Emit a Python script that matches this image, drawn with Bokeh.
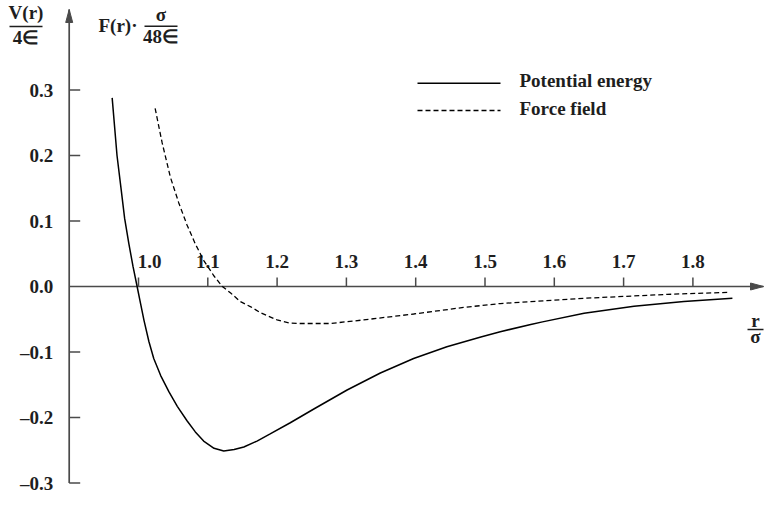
from bokeh.plotting import figure
from bokeh.embed import file_html
from bokeh.resources import INLINE
from bokeh.core.properties import value

# ---- data ----
pot_r = [0.962, 0.969, 0.975, 0.980, 0.986, 0.992, 0.998, 1.003, 1.008, 1.015, 1.022,
         1.032, 1.044, 1.056, 1.070, 1.082, 1.094, 1.109, 1.123, 1.138, 1.152, 1.171,
         1.190, 1.219, 1.253, 1.301, 1.349, 1.397, 1.445, 1.494, 1.522, 1.566, 1.583,
         1.643, 1.715, 1.787, 1.857]
pot_v = [0.288, 0.200, 0.148, 0.104, 0.066, 0.031, 0.000, -0.026, -0.052, -0.084, -0.110,
         -0.136, -0.161, -0.183, -0.205, -0.222, -0.236, -0.247, -0.251, -0.249, -0.245, -0.236,
         -0.225, -0.208, -0.187, -0.158, -0.132, -0.110, -0.092, -0.077, -0.069, -0.058, -0.054,
         -0.041, -0.030, -0.023, -0.018]

force_r = [1.024, 1.034, 1.046, 1.058, 1.070, 1.082, 1.094, 1.109, 1.121, 1.133, 1.147,
           1.162, 1.176, 1.200, 1.219, 1.234, 1.277, 1.325, 1.397, 1.469, 1.522, 1.566,
           1.643, 1.763, 1.850]
force_v = [0.272, 0.220, 0.167, 0.128, 0.094, 0.065, 0.040, 0.016, 0.000, -0.010, -0.023,
           -0.031, -0.040, -0.051, -0.056, -0.0565, -0.0565, -0.051, -0.042, -0.032, -0.026, -0.023,
           -0.018, -0.012, -0.009]

x_ticks = [1.0, 1.1, 1.2, 1.3, 1.4, 1.5, 1.6, 1.7, 1.8]
x_labels = ["1.0", "1.1", "1.2", "1.3", "1.4", "1.5", "1.6", "1.7", "1.8"]
y_ticks = [0.3, 0.2, 0.1, 0.0, -0.1, -0.2, -0.3]
y_labels = ["0.3", "0.2", "0.1", "0.0", "\u20130.1", "\u20130.2", "\u20130.3"]
series_names = ["Potential energy", "Force field"]

# ---- layout ----
W, H = 764, 496
SX, SY = 693.0, 655.0          # pixels per data unit
X0 = 1.0 - 138 / SX
Y1 = 286 / SY
AX_X = 0.9                     # where the vertical axis sits
AX_Y_BOTTOM = -0.3


def X(px):
    return X0 + px / SX


def Y(py):
    return Y1 - py / SY


FONT = value("Liberation Serif")
AXC = "#4a4a4a"
TXT = "#1e1e1e"

p = figure(width=W, height=H, x_range=(X0, X0 + W / SX), y_range=(Y1 - H / SY, Y1),
           x_axis_type=None, y_axis_type=None, toolbar_location=None,
           output_backend="svg", min_border=0, outline_line_color=None)
p.background_fill_color = "white"
p.border_fill_color = "white"

# axes
x_tip = X(763)
y_tip = Y(9)
p.line([AX_X, x_tip], [0, 0], line_color=AXC, line_width=1.7)
p.line([AX_X, AX_X], [AX_Y_BOTTOM, y_tip], line_color=AXC, line_width=1.7)
# arrow heads
p.patch([AX_X, AX_X - 3.5 / SX, AX_X + 3.5 / SX], [y_tip, y_tip - 13 / SY, y_tip - 13 / SY],
        fill_color=AXC, line_color=AXC, line_width=1)
p.patch([x_tip, x_tip - 13 / SX, x_tip - 13 / SX], [0, 3.5 / SY, -3.5 / SY],
        fill_color=AXC, line_color=AXC, line_width=1)

# ticks
p.segment(x0=x_ticks, y0=[0] * len(x_ticks), x1=x_ticks, y1=[9 / SY] * len(x_ticks),
          line_color=AXC, line_width=1.5)
yt = [t for t in y_ticks if t != 0]
p.segment(x0=[AX_X] * len(yt), y0=yt, x1=[AX_X + 11 / SX] * len(yt), y1=yt,
          line_color=AXC, line_width=1.5)

# tick labels
lbl = dict(text_font=FONT, text_font_style="bold", text_font_size="19px", text_color=TXT,
           text_baseline="alphabetic")
p.text(x=x_ticks[:1], y=[0], text=x_labels[:1], text_align="center",
       x_offset=11, y_offset=-25, **lbl)
p.text(x=x_ticks[1:], y=[0] * (len(x_ticks) - 1), text=x_labels[1:], text_align="center",
       y_offset=-25, **lbl)
p.text(x=[AX_X] * len(y_ticks), y=y_ticks, text=y_labels, text_align="right",
       x_offset=-16, y_offset=0, **lbl)

# curves
p.line(pot_r, pot_v, line_color="black", line_width=1.5)
p.line(force_r, force_v, line_color="black", line_width=1.3, line_dash="5 3")

# legend (manual)
p.line([X(417), X(500)], [Y(82.7), Y(82.7)], line_color="black", line_width=1.5)
p.line([X(417), X(500)], [Y(110), Y(110)], line_color="black", line_width=1.3, line_dash="5 3")
p.text(x=[X(519), X(519)], y=[Y(80), Y(107.5)], text=series_names, text_align="left", **lbl)


# axis titles as fractions
def frac(cx, num, den, line_y, x_a, x_b, num_y, den_y):
    p.text(x=[X(cx)], y=[Y(num_y)], text=[num], text_align="center", **lbl)
    p.line([X(x_a), X(x_b)], [Y(line_y), Y(line_y)], line_color=TXT, line_width=1.5)
    p.text(x=[X(cx)], y=[Y(den_y)], text=[den], text_align="center", **lbl)


frac(25.5, "V(r)", "4\u2208", 26, 9, 42, 12, 36.5)
p.text(x=[X(98)], y=[Y(25)], text=["F(r)\u00b7"], text_align="left", **lbl)
frac(160.5, "\u03c3", "48\u2208", 25.7, 144, 177, 14, 36)
frac(755, "r", "\u03c3", 329, 747, 763, 320, 335.5)

open("out.html", "w").write(file_html(p, INLINE))
